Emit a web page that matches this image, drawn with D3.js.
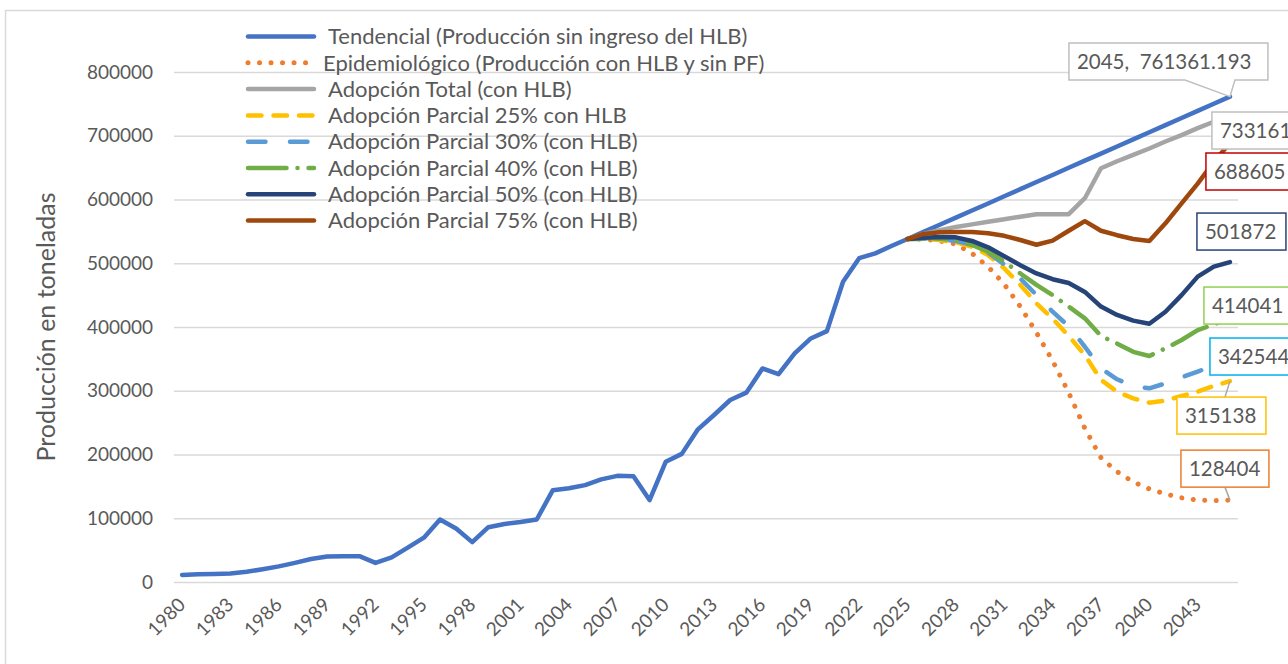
<!DOCTYPE html>
<html>
<head>
<meta charset="utf-8">
<script src="https://cdn.jsdelivr.net/npm/d3@7"></script>
<style>
  body { margin: 0; background: #fff; }
  svg { display: block; font-family: Lato, "Noto Sans", sans-serif; }
</style>
</head>
<body>
<div id="chart"></div>
<script>
// categories
var years = d3.range(1980, 2046);
var projYears = d3.range(2025, 2046);
var tickYears = [1980, 1983, 1986, 1989, 1992, 1995, 1998, 2001, 2004, 2007, 2010,
  2013, 2016, 2019, 2022, 2025, 2028, 2031, 2034, 2037, 2040, 2043];
var yTicks = [0, 100000, 200000, 300000, 400000, 500000, 600000, 700000, 800000];

// series values (toneladas)
var tendencial = [11000, 12000, 12500, 13500, 16000, 20000, 24500, 30000, 36000, 40000,
  40500, 40500, 30000, 38500, 54000, 69500, 98000, 84000, 62500, 86000,
  91000, 94000, 98000, 144000, 147000, 152000, 161000, 166500, 166000, 128500,
  188500, 201000, 239500, 262000, 285500, 297000, 335000, 326000, 358500, 382000,
  393500, 471000, 508000, 515500, 527000, 538000, 549200, 560300, 571500, 582700,
  593800, 605000, 616200, 627400, 638500, 649700, 660900, 672000, 683200, 694400,
  705500, 716700, 727900, 739100, 750200, 761361.193];
var epidemiologico = [538000, 537500, 535000, 530000, 515500, 494500, 467000, 432000, 391000, 347000,
  297000, 241000, 195000, 173000, 157000, 146000, 138000, 132000, 128600, 127600, 128404];
var adopTotal = [538000, 546000, 552000, 557000, 561000, 565000, 569000, 573000, 577000, 577000,
  577000, 602000, 649000, 660000, 670000, 680000, 691000, 701000, 712000, 722000, 733161];
var parcial25 = [538000, 538000, 536500, 533000, 526000, 513000, 492000, 466000, 437000, 413000,
  386000, 356000, 317000, 298500, 288000, 281300, 284500, 291800, 298600, 307500, 315138];
var parcial30 = [538000, 538600, 537500, 535000, 528600, 516600, 498000, 476000, 450000, 424000,
  401000, 369000, 335000, 318000, 307500, 303800, 311600, 321000, 330000, 340000, 342544];
var parcial40 = [538000, 539600, 538600, 535400, 528600, 518000, 502500, 484000, 466000, 450000,
  432000, 413600, 386000, 374000, 361000, 354500, 366500, 379600, 395000, 404000, 414041];
var parcial50 = [538000, 540000, 541000, 540600, 535000, 525000, 511000, 497000, 484000, 475000,
  469000, 455000, 432000, 419000, 410000, 405000, 424000, 450000, 479000, 494600, 501872];
var parcial75 = [538000, 546000, 548500, 549000, 549000, 547000, 543000, 536500, 529000, 535500,
  551000, 566000, 551000, 544000, 538000, 535000, 562600, 594000, 625000, 659000, 688605];

var names = [
  "Tendencial (Producción sin ingreso del HLB)",
  "Epidemiológico (Producción con HLB y sin PF)",
  "Adopción Total (con HLB)",
  "Adopción Parcial 25% con HLB",
  "Adopción Parcial 30% (con HLB)",
  "Adopción Parcial 40% (con HLB)",
  "Adopción Parcial 50% (con HLB)",
  "Adopción Parcial 75% (con HLB)"
];
var endLabels = ["2045,\u00a0 761361.193", "128404", "733161", "315138", "342544", "414041", "501872", "688605"];

var series = [
  { values: tendencial, yrs: years, color: "#4472C4", dash: null, box: "#BFBFBF" },
  { values: epidemiologico, yrs: projYears, color: "#ED7D31", dash: "0.01 11.5", box: "#ED7D31" },
  { values: adopTotal, yrs: projYears, color: "#A5A5A5", dash: null, box: "#BFBFBF" },
  { values: parcial25, yrs: projYears, color: "#FFC000", dash: "13.5 12", box: "#FFC000" },
  { values: parcial30, yrs: projYears, color: "#5B9BD5", dash: "17.5 24.5", box: "#00B0F0" },
  { values: parcial40, yrs: projYears, color: "#70AD47", dash: "38.5 11 0.01 11", box: "#92D050" },
  { values: parcial50, yrs: projYears, color: "#264478", dash: null, box: "#264478" },
  { values: parcial75, yrs: projYears, color: "#9E480E", dash: null, box: "#C00000" }
];

var W = 1288, H = 664;
var pLeft = 174, pRight = 1238, pTop = 72, pBottom = 582;
var plotW = pRight - pLeft, plotH = pBottom - pTop;
var textColor = "#595959";

var svg = d3.select("#chart").append("svg").attr("width", W).attr("height", H);

// chart border
svg.append("rect")
  .attr("x", 5.5).attr("y", 10.5).attr("width", 1400).attr("height", 800)
  .attr("fill", "none").attr("stroke", "#d9d9d9").attr("stroke-width", 1.5);

var g = svg.append("g").attr("transform", "translate(" + pLeft + "," + pTop + ")");

var x = d3.scalePoint().domain(years).range([0, plotW]).padding(0.5);
var y = d3.scaleLinear().domain([0, 800000]).range([plotH, 0]);

// y axis + gridlines
g.append("g")
  .call(d3.axisLeft(y).tickValues(yTicks).tickSize(-plotW).tickPadding(21).tickFormat(d3.format("d")))
  .attr("font-family", null).attr("font-size", 19)
  .call((a) => a.select(".domain").remove())
  .call((a) => a.selectAll("line").attr("stroke", "#d9d9d9").attr("stroke-width", 1.5))
  .call((a) => a.selectAll("text").attr("fill", textColor));

// x axis labels, rotated
g.append("g")
  .attr("transform", "translate(0," + plotH + ")")
  .call(d3.axisBottom(x).tickValues(tickYears).tickSize(0))
  .attr("font-family", null).attr("font-size", 19)
  .call((a) => a.select(".domain").remove())
  .call((a) =>
    a.selectAll("text")
      .attr("y", 0).attr("dy", 0)
      .attr("text-anchor", "end")
      .attr("fill", textColor)
      .attr("transform", "translate(4,24) rotate(-45)")
  );

// axis title
svg.append("text")
  .attr("transform", "translate(55," + (pTop + plotH / 2) + ") rotate(-90)")
  .attr("text-anchor", "middle")
  .attr("font-size", 25)
  .attr("fill", textColor)
  .text("Producción en toneladas");

// lines
var line = d3.line()
  .x((d) => x(d[0]))
  .y((d) => y(d[1]));

series.forEach(function (s) {
  g.append("path")
    .datum(s.yrs.map((yr, i) => [yr, s.values[i]]))
    .attr("fill", "none")
    .attr("stroke", s.color)
    .attr("stroke-width", s.dash && s.dash.indexOf("0.01") === 0 ? 5 : 4.5)
    .attr("stroke-linecap", "round")
    .attr("stroke-linejoin", "round")
    .attr("stroke-dasharray", s.dash)
    .attr("d", line);
});

// legend
var legend = svg.append("g").attr("font-size", 22).attr("fill", textColor);
names.forEach(function (n, i) {
  var ly = 36.5 + i * 26.3;
  var dotted = i === 1;
  legend.append("line")
    .attr("x1", 248).attr("x2", dotted ? 309 : 314)
    .attr("y1", ly).attr("y2", ly)
    .attr("stroke", series[i].color)
    .attr("stroke-width", dotted ? 5 : 4.5)
    .attr("stroke-linecap", "round")
    .attr("stroke-dasharray", series[i].dash);
  legend.append("text")
    .attr("x", dotted ? 323 : 328).attr("y", ly).attr("dy", "0.35em")
    .text(n);
});

// end-of-series data labels (box offset from the 2045 point)
var boxes = [
  { dx: -161, dy: -53.6, w: 199 },
  { dx: -49, dy: -50, w: 88 },
  { dx: -18, dy: -2.6, w: 100 },
  { dx: -53, dy: 16, w: 89 },
  { dx: -20, dy: -25.6, w: 100 },
  { dx: -26, dy: -31, w: 100 },
  { dx: -33, dy: -49, w: 89 },
  { dx: -24, dy: 10, w: 100 }
];
var bh = 37;
var labels = svg.append("g").attr("transform", "translate(" + pLeft + "," + pTop + ")");
series.forEach(function (s, i) {
  var last = s.values[s.values.length - 1];
  var px = x(2045), py = y(last);
  var b = boxes[i];
  var bx = px + b.dx, by = py + b.dy;
  if (i === 0) {
    // callout box with pointer
    var p = d3.path();
    p.moveTo(bx, by);
    p.lineTo(bx + b.w, by);
    p.lineTo(bx + b.w, by + bh);
    p.lineTo(px + 5, by + bh);
    p.lineTo(px, py);
    p.lineTo(px - 45, by + bh);
    p.lineTo(bx, by + bh);
    p.closePath();
    labels.append("path").attr("d", p.toString())
      .attr("fill", "#fff").attr("stroke", s.box).attr("stroke-width", 1.5);
  } else {
    if (i === 1 || i === 3) {
      var ey = i === 1 ? by + bh : by;
      labels.append("line")
        .attr("x1", px - 5).attr("y1", ey).attr("x2", px).attr("y2", py)
        .attr("stroke", "#a6a6a6").attr("stroke-width", 1.5);
    }
    labels.append("rect")
      .attr("x", bx).attr("y", by).attr("width", b.w).attr("height", bh)
      .attr("fill", "#fff").attr("stroke", s.box).attr("stroke-width", 1.5);
  }
  labels.append("text")
    .attr("x", bx + 8).attr("y", by + bh / 2).attr("dy", "0.36em")
    .attr("font-size", 20.5).attr("fill", textColor)
    .text(endLabels[i]);
});
</script>
</body>
</html>
